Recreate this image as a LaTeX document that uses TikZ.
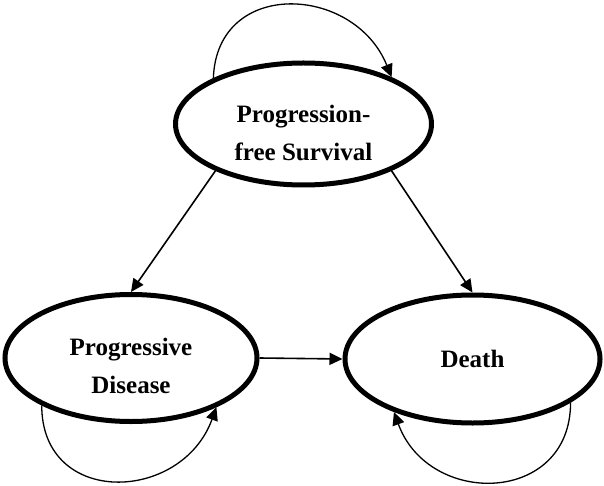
\documentclass[tikz,border=0pt]{standalone}
\usepackage{fontspec}
\setmainfont{Liberation Serif}
\usepackage{tikz}
\usetikzlibrary{positioning, arrows.meta, shapes.geometric}
\def\trans{\draw[-{Triangle[length=13pt, width=12pt]}, line width=1.6pt]}
\def\stay{\draw[-{Triangle[length=13pt, width=12pt]}, line width=1.3pt]}

\begin{document}
\begin{tikzpicture}[x=1pt, y=1pt,
    state/.style={draw, ellipse, line width=5pt, inner sep=0pt,
      minimum width=256pt, minimum height=124pt},
    txt/.style={font=\fontsize{25}{38}\selectfont\bfseries, align=center}]
  \useasboundingbox (0,0) rectangle (604,485);
  \node [state, minimum height=122pt] (A) at (303.5,361) {};
  \node [state, minimum height=127pt, minimum width=252pt] (B) at (131,127) {};
  \node [state, minimum height=128pt, minimum width=255pt] (C) at (472.5,126) {};
  \node [txt] (A1) at ([yshift=-8.5pt]A.center) {Progression-\\free Survival};
  \node [txt] (B1) at ([yshift=-7.5pt]B.center) {Progressive\\Disease};
  \node [txt] (C1) at (C.center) {Death};

  \trans (A.208) -- (B.north);
  \trans (A.332) -- (C.north);
  \trans (B.east) -- (C.west);
  \stay (A.153) to[out=88, in=112, distance=100pt] (A.28);
  \stay (B.208) to[out=-90, in=-110, distance=102pt] (B.330);
  \stay (C.336) to[out=-90, in=-70, distance=102pt] (C.214);
\end{tikzpicture}
\end{document}
